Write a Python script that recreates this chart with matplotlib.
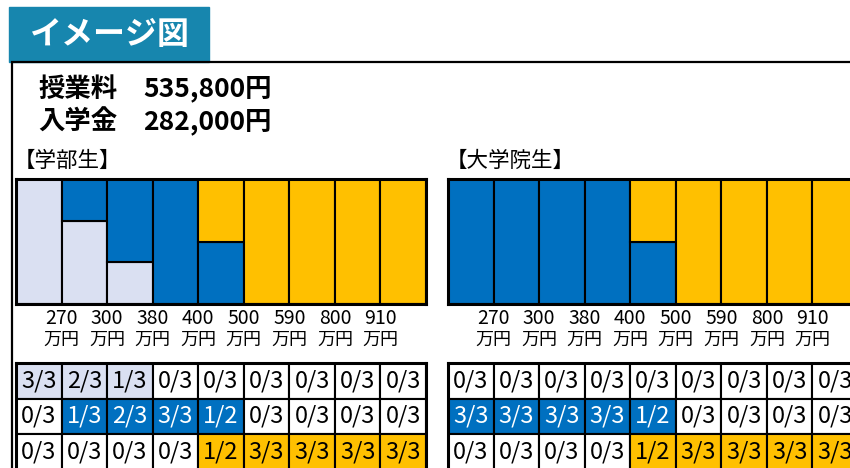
import matplotlib
matplotlib.use("Agg")
import matplotlib.pyplot as plt
import matplotlib.transforms as mtransforms
from matplotlib.patches import Rectangle
from fractions import Fraction
import numpy as np

plt.rcParams['font.family'] = ['Noto Sans CJK JP', 'DejaVu Sans']

# data
incomes = ["270", "300", "380", "400", "500", "590", "800", "910"]
tuition = "535,800円"
admission = "282,000円"

ug_light = ["3/3", "2/3", "1/3", "0/3", "0/3", "0/3", "0/3", "0/3", "0/3"]
ug_blue = ["0/3", "1/3", "2/3", "3/3", "1/2", "0/3", "0/3", "0/3", "0/3"]
ug_orange = ["0/3", "0/3", "0/3", "0/3", "1/2", "3/3", "3/3", "3/3", "3/3"]

gr_light = ["0/3", "0/3", "0/3", "0/3", "0/3", "0/3", "0/3", "0/3", "0/3"]
gr_blue = ["3/3", "3/3", "3/3", "3/3", "1/2", "0/3", "0/3", "0/3", "0/3"]
gr_orange = ["0/3", "0/3", "0/3", "0/3", "1/2", "3/3", "3/3", "3/3", "3/3"]

c_light = '#DAE0F2'
c_blue = '#0070C0'
c_orange = '#FFC000'
c_banner = '#1786AE'

W, H = 850, 468
fig = plt.figure(figsize=(W / 100, H / 100), dpi=100)
ax0 = fig.add_axes([0, 0, 1, 1])
ax0.set_xlim(0, W)
ax0.set_ylim(H, 0)
ax0.axis('off')


def px_axes(x0, y0, w, h):
    return fig.add_axes([x0 / W, 1 - (y0 + h) / H, w / W, h / H])


def frac(vals):
    return np.array([float(Fraction(v)) for v in vals])


# banner and frame
ax0.add_patch(Rectangle((9, 7), 200, 55, color=c_banner, zorder=1))
ax0.text(110, 35, "イメージ図", color='white', fontsize=23, fontweight='bold',
         ha='center', va='center')
ax0.plot([12, 12, W], [H, 62, 62], color='black', lw=1.6, solid_joinstyle='miter')

ax0.text(38, 89, "授業料", fontsize=19, fontweight='bold', ha='left', va='center')
ax0.text(143, 89, tuition, fontsize=19, fontweight='bold', ha='left', va='center')
ax0.text(38, 122, "入学金", fontsize=19, fontweight='bold', ha='left', va='center')
ax0.text(143, 122, admission, fontsize=19, fontweight='bold', ha='left', va='center')
ax0.text(14, 161, "【学部生】", fontsize=15.5, ha='left', va='center')
ax0.text(446, 161, "【大学院生】", fontsize=15.5, ha='left', va='center')


def draw_panel(x0, light, blue, orange):
    n = len(light)
    lv, bv, ov = frac(light), frac(blue), frac(orange)
    x = np.arange(n) + 0.5

    ax = px_axes(x0, 179, 410, 125)
    for vals, bottom, col in [(lv, 0, c_light), (bv, lv, c_blue), (ov, lv + bv, c_orange)]:
        bottom = np.zeros(n) + bottom
        m = vals > 0
        ax.bar(x[m], vals[m], width=1, bottom=bottom[m], color=col,
               edgecolor='black', linewidth=1.5)
    ax.set_xlim(0, n)
    ax.set_ylim(0, 1)
    ax.set_xticks([])
    ax.set_yticks([])
    for s in ax.spines.values():
        s.set_linewidth(2.2)

    tr = mtransforms.blended_transform_factory(ax.transData, ax0.transData)
    for i, lab in enumerate(incomes):
        ax.text(i + 1, 318, lab, transform=tr, fontsize=14, ha='center', va='center')
        ax.text(i + 1, 340, "万円", transform=tr, fontsize=13, ha='center', va='center')

    # table
    tb = px_axes(x0, 363, 410, 106.5)
    rows = [(light, lv, c_light, 'black'), (blue, bv, c_blue, 'white'),
            (orange, ov, c_orange, 'black')]
    for r, (labels, vals, col, tcol) in enumerate(rows):
        fills = [col if v > 0 else 'white' for v in vals]
        tb.bar(x, 1, width=1, bottom=r, color=fills, edgecolor='black', linewidth=1.5)
        for i, lab in enumerate(labels):
            tb.text(x[i], r + 0.5, lab, fontsize=17, ha='center', va='center',
                    color=tcol if vals[i] > 0 else 'black')
    tb.set_xlim(0, n)
    tb.set_ylim(3, 0)
    tb.set_xticks([])
    tb.set_yticks([])
    for s in tb.spines.values():
        s.set_linewidth(2.2)


draw_panel(16, ug_light, ug_blue, ug_orange)
draw_panel(448, gr_light, gr_blue, gr_orange)

fig.savefig("out.png", dpi=100)
